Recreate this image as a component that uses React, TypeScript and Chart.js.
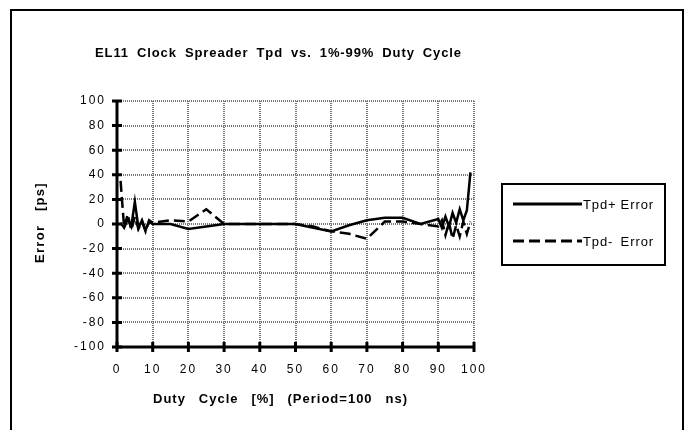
import React, { useEffect, useRef } from 'react';
import { Chart, registerables } from 'chart.js';

Chart.register(...registerables);

// ---- data ----
const dutyCycle = [1, 2, 3, 4, 5, 6, 7, 8, 9, 10, 15, 20, 25, 30, 35, 40, 45, 50, 55, 60, 65, 70, 75, 80, 85, 90, 91, 92, 93, 94, 95, 96, 97, 98, 99];
const tpdPlusError = [1, -3, 4, -2, 18, -3, 3, -5, 2, 0, 0, -4, -2, 0, 0, 0, 0, 0, -3, -6, -1, 3, 5, 5, 0, 4, -3, 6, -2, 9, 1, 12, 3, 11, 42];
const tpdMinusError = [35, -3, 8, -5, 6, -4, 2, -6, 3, 1, 3, 2, 12, 0, 0, 0, 0, 0, -2, -6, -8, -12, 2, 2, 0, -2, 3, -9, 1, -12, -1, -10, 2, -8, 2];
const seriesNames = ['Tpd+  Error', 'Tpd-  Error'];
const xTickValues = [0, 10, 20, 30, 40, 50, 60, 70, 80, 90, 100];
const yTickValues = [-100, -80, -60, -40, -20, 0, 20, 40, 60, 80, 100];
const chartTitle = 'EL11  Clock  Spreader  Tpd  vs.  1%-99%  Duty  Cycle';
const xAxisTitle = 'Duty  Cycle  [%]  (Period=100  ns)';
const yAxisTitle = 'Error  [ps]';

const FONT = '"Liberation Sans", Arial, sans-serif';
const DASH = [11, 5];

function fittedText(ctx: CanvasRenderingContext2D, text: string, left: number, cy: number, width: number, ls: number) {
  const c = ctx as any;
  c.letterSpacing = ls + 'px';
  c.wordSpacing = '0px';
  const w = ctx.measureText(text).width;
  const spaces = (text.match(/ /g) || []).length;
  const ws = spaces ? (width - w) / spaces : 0;
  c.wordSpacing = ws + 'px';
  ctx.textAlign = 'left';
  ctx.textBaseline = 'middle';
  ctx.fillText(text, left, cy);
  c.letterSpacing = '0px';
  c.wordSpacing = '0px';
}

const decorPlugin = {
  id: 'decor',
  beforeDraw(chart: any) {
    const ctx = chart.ctx;
    ctx.save();
    ctx.fillStyle = '#fff';
    ctx.fillRect(0, 0, chart.width, chart.height);
    ctx.strokeStyle = '#000';
    ctx.lineWidth = 2;
    ctx.strokeRect(11, 10, 672, 520);
    ctx.restore();
    ctx.letterSpacing = '2px';
  },
  beforeDatasetsDraw(chart: any) {
    chart.ctx.letterSpacing = '0px';
  },
  afterDraw(chart: any) {
    const ctx = chart.ctx;
    const a = chart.chartArea;
    const xs = chart.scales.x;
    const ys = chart.scales.y;
    ctx.save();
    ctx.letterSpacing = '0px';
    ctx.strokeStyle = '#000';
    ctx.lineWidth = 3;
    ctx.setLineDash([]);
    ctx.beginPath();
    ctx.moveTo(a.left, a.top);
    ctx.lineTo(a.left, a.bottom);
    ctx.lineTo(a.right + 1, a.bottom);
    ctx.stroke();
    ctx.beginPath();
    yTickValues.forEach((v) => {
      const py = ys.getPixelForValue(v);
      ctx.moveTo(a.left - 5, py);
      ctx.lineTo(a.left + 5, py);
    });
    xTickValues.forEach((v) => {
      const px = xs.getPixelForValue(v);
      ctx.moveTo(px, a.bottom - 5);
      ctx.lineTo(px, a.bottom + 5);
    });
    ctx.stroke();

    // titles
    ctx.fillStyle = '#000';
    ctx.font = 'bold 13px ' + FONT;
    fittedText(ctx, chartTitle, 95, 53, 367, 0.9);
    fittedText(ctx, xAxisTitle, 153, 399, 255, 1.0);
    ctx.save();
    ctx.translate(40, 263);
    ctx.rotate(-Math.PI / 2);
    fittedText(ctx, yAxisTitle, 0, 0, 81, 1.3);
    ctx.restore();

    // legend
    ctx.lineWidth = 2;
    ctx.strokeRect(502, 184, 163, 81);
    ctx.lineWidth = 3;
    const rows = [204, 241];
    chart.data.datasets.forEach((ds: any, i: number) => {
      ctx.setLineDash(ds.borderDash || []);
      ctx.beginPath();
      ctx.moveTo(513, rows[i]);
      ctx.lineTo(582, rows[i]);
      ctx.stroke();
      ctx.setLineDash([]);
      ctx.font = '13px ' + FONT;
      fittedText(ctx, ds.label, 583, rows[i] + 1, 71, 0.9);
    });
    ctx.restore();
  },
};

export default function App() {
  const ref = useRef<HTMLCanvasElement>(null);
  useEffect(() => {
    if (!ref.current) return;
    const chart = new Chart(ref.current, {
      type: 'line',
      data: {
        datasets: [
          {
            label: seriesNames[0],
            data: dutyCycle.map((d, i) => ({ x: d, y: tpdPlusError[i] })),
            borderColor: '#000',
            borderWidth: 2.5,
            pointRadius: 0,
            tension: 0,
          },
          {
            label: seriesNames[1],
            data: dutyCycle.map((d, i) => ({ x: d, y: tpdMinusError[i] })),
            borderColor: '#000',
            borderWidth: 2.5,
            borderDash: DASH,
            pointRadius: 0,
            tension: 0,
          },
        ],
      },
      options: {
        animation: false,
        responsive: false,
        layout: { padding: { left: 0, right: 220, top: 101, bottom: 0 } },
        plugins: { legend: { display: false }, title: { display: false }, tooltip: { enabled: false } },
        scales: {
          x: {
            type: 'linear',
            min: 0,
            max: 100,
            afterFit: (s: any) => { s.height = 83; },
            afterBuildTicks: (s: any) => { s.ticks = xTickValues.map((v) => ({ value: v })); },
            ticks: { color: '#000', padding: 15, font: { family: FONT, size: 12 }, maxRotation: 0, autoSkip: false },
            grid: { color: '#777', lineWidth: 2, drawTicks: false },
            border: { display: false, dash: [1, 1] },
          },
          y: {
            type: 'linear',
            min: -100,
            max: 100,
            afterFit: (s: any) => { s.width = 117; },
            afterBuildTicks: (s: any) => { s.ticks = yTickValues.map((v) => ({ value: v })); },
            ticks: { color: '#000', padding: 11, font: { family: FONT, size: 12 }, autoSkip: false },
            grid: { color: '#777', lineWidth: 2, drawTicks: false },
            border: { display: false, dash: [1, 1] },
          },
        },
      },
      plugins: [decorPlugin],
    });
    return () => chart.destroy();
  }, []);
  return (
    <div style={{ position: 'fixed', left: 0, top: 0, width: 694, height: 430 }}>
      <canvas ref={ref} width={694} height={430} style={{ display: 'block' }} />
    </div>
  );
}
